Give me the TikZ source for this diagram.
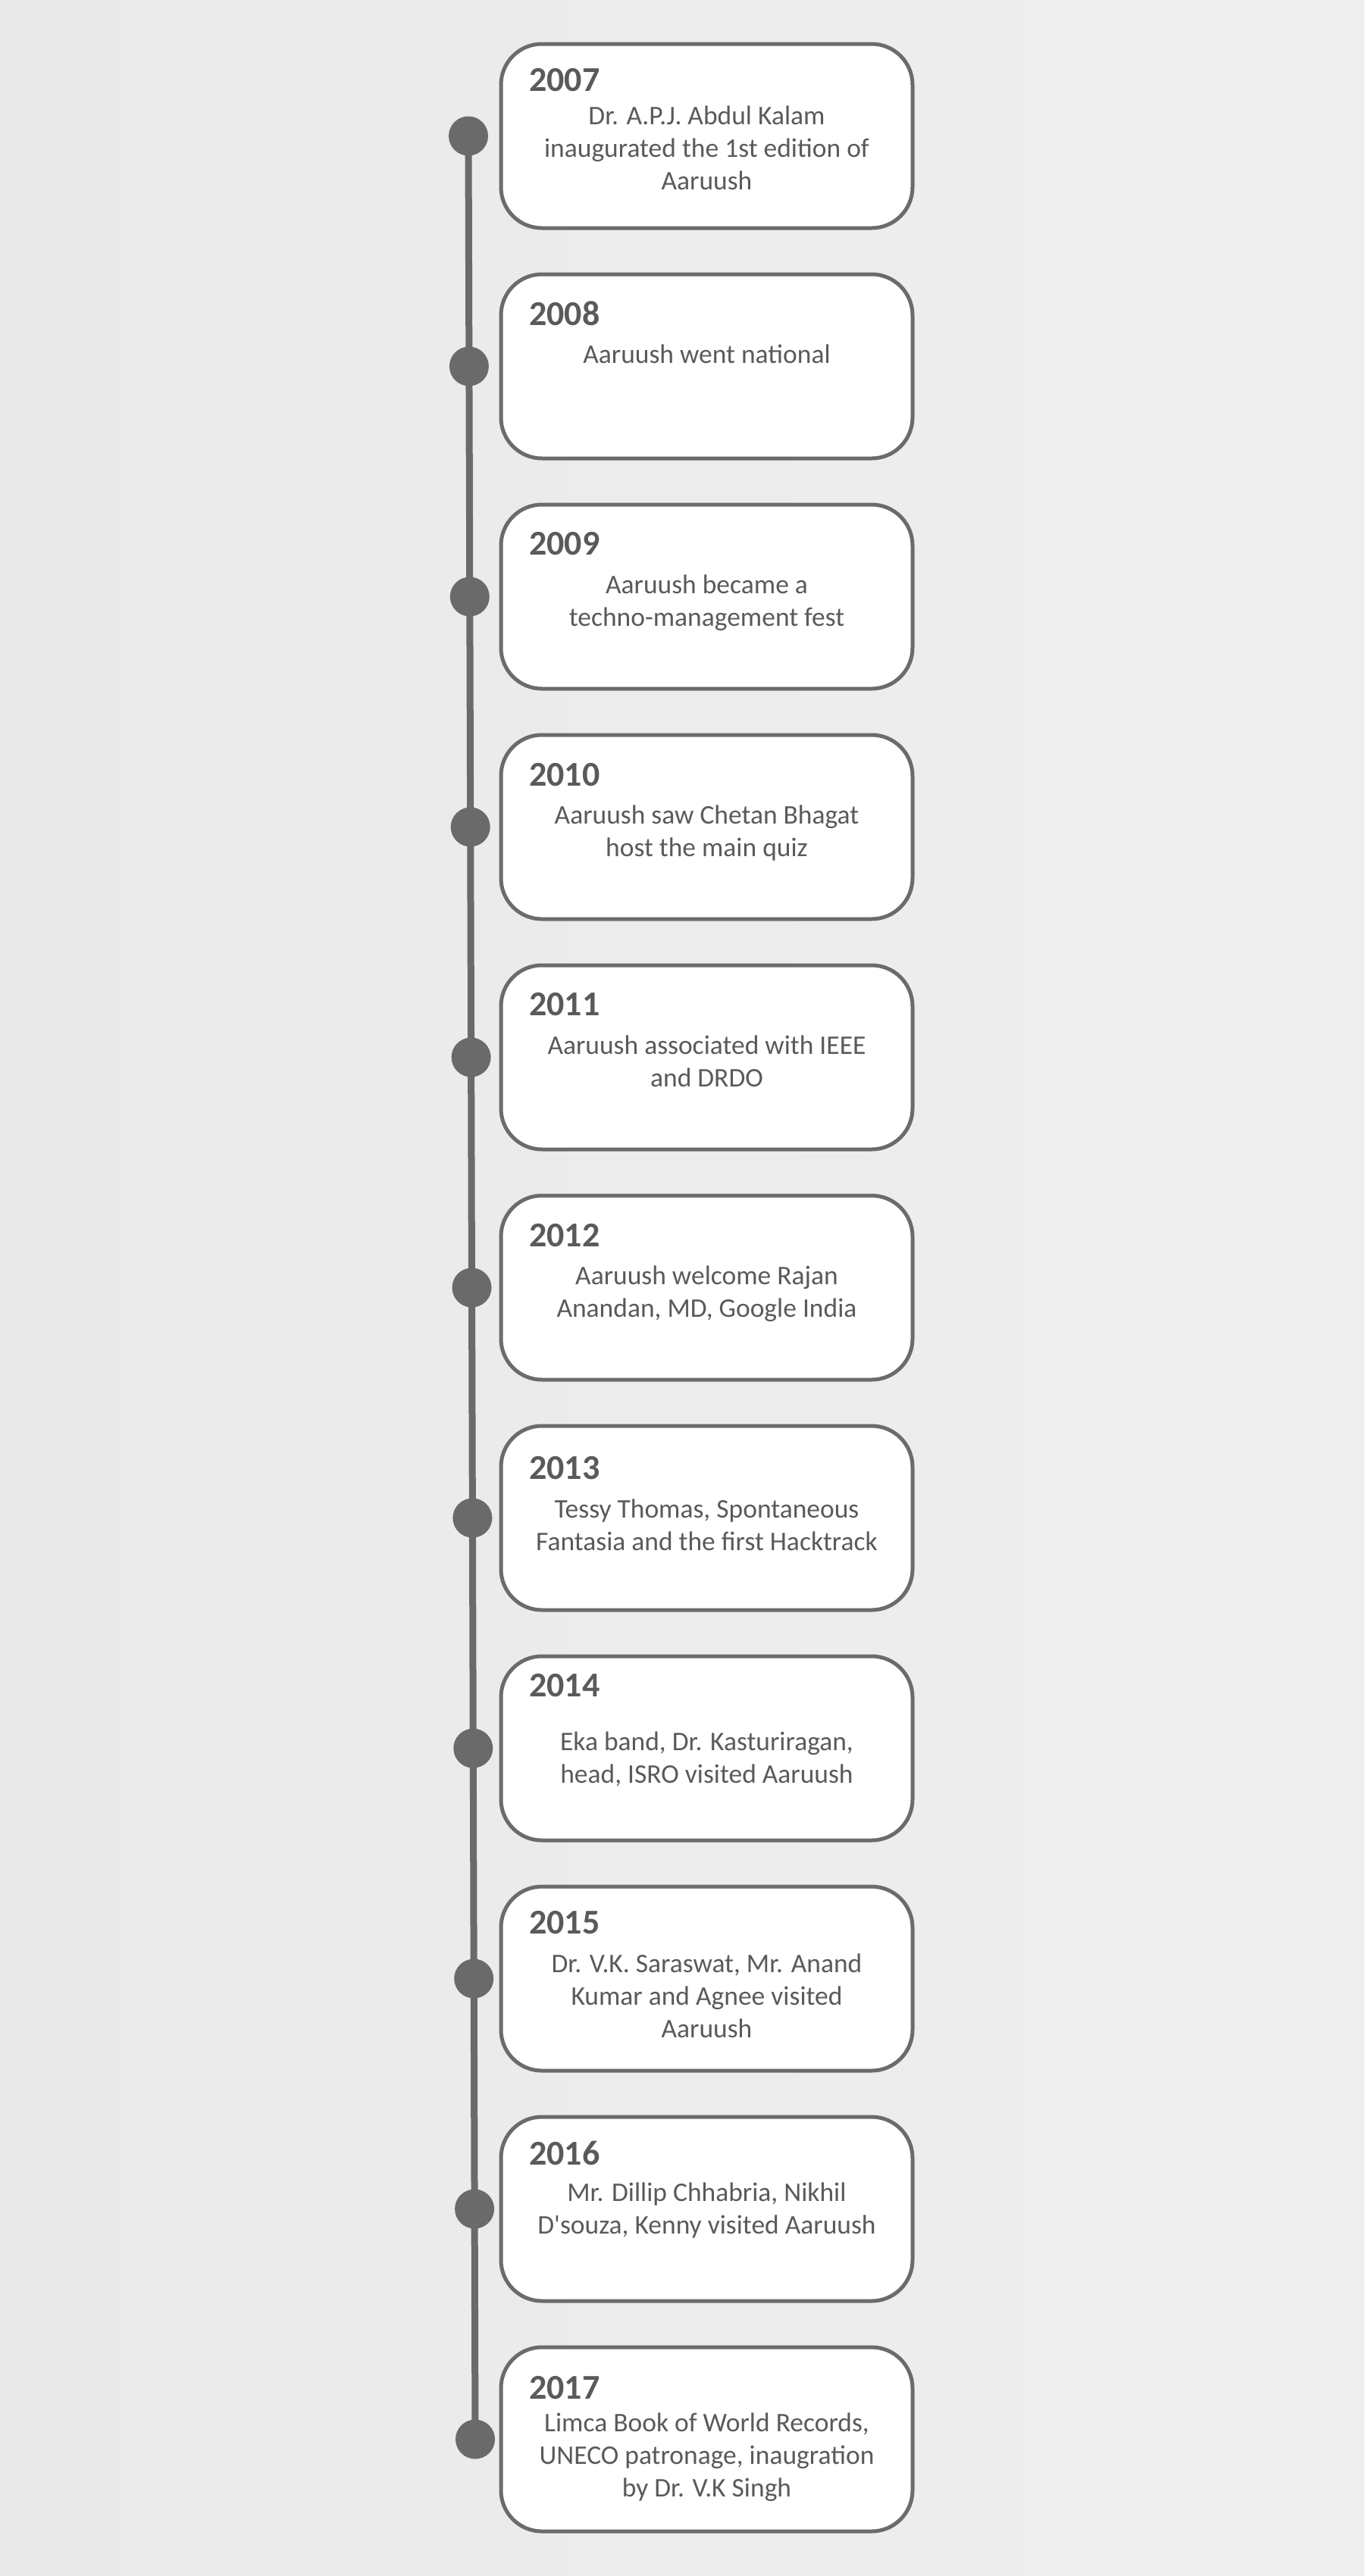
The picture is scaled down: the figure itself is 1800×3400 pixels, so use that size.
\documentclass[tikz,border=0pt]{standalone}
\usepackage{fontspec}
\setmainfont{Carlito}
\newfontfamily\yearfont{Carlito}
\definecolor{bgL}{HTML}{E9E9E9}
\definecolor{bgR}{HTML}{EFEFEF}
\definecolor{linecol}{HTML}{6A6A6A}
\definecolor{bordercol}{HTML}{6B6B6B}
\definecolor{txtcol}{HTML}{5A5A5A}
\definecolor{yearcol}{HTML}{5A5A5A}
\pgfdeclarelayer{bg}
\pgfsetlayers{bg,main}
\tikzset{
  evbox/.style={draw=bordercol, line width=5pt, fill=white, rounded corners=54pt,
    minimum width=543pt, minimum height=243pt, inner sep=0pt},
  dotnode/.style={circle, fill=linecol, draw=none, minimum size=52pt, inner sep=0pt},
  yearlbl/.style={anchor=west, inner sep=0pt, text=yearcol, font=\yearfont\bfseries\fontsize{46}{50}\selectfont},
  desclbl/.style={anchor=north, inner sep=0pt, align=center, text=txtcol, font=\fontsize{35.5}{43}\selectfont},
  tline/.style={draw=linecol, line width=9pt}
}
\begin{document}
\begin{tikzpicture}[x=1pt,y=-1pt]
\useasboundingbox (0,0) rectangle (1800,3400);
% boxes
\node[evbox] (b0) at (932.5,179.5) {};
\node[evbox] (b1) at (932.5,483.5) {};
\node[evbox] (b2) at (932.5,787.5) {};
\node[evbox] (b3) at (932.5,1091.5) {};
\node[evbox] (b4) at (932.5,1395.5) {};
\node[evbox] (b5) at (932.5,1699.5) {};
\node[evbox] (b6) at (932.5,2003.5) {};
\node[evbox] (b7) at (932.5,2307.5) {};
\node[evbox] (b8) at (932.5,2611.5) {};
\node[evbox] (b9) at (932.5,2915.5) {};
\node[evbox] (b10) at (932.5,3219.5) {};
% years
\node[yearlbl] (y0) at (698,106) {2007};
\node[yearlbl] (y1) at (698,414) {2008};
\node[yearlbl] (y2) at (698,718) {2009};
\node[yearlbl] (y3) at (698,1023) {2010};
\node[yearlbl] (y4) at (698,1326) {2011};
\node[yearlbl] (y5) at (698,1631) {2012};
\node[yearlbl] (y6) at (698,1938) {2013};
\node[yearlbl] (y7) at (698,2225) {2014};
\node[yearlbl] (y8) at (698,2538) {2015};
\node[yearlbl] (y9) at (698,2842) {2016};
\node[yearlbl] (y10) at (698,3152) {2017};
% descriptions
\node[desclbl] (t0) at (932.5,140) {Dr. A.P.J. Abdul Kalam\\inaugurated the 1st edition of\\Aaruush};
\node[desclbl] (t1) at (932.5,455) {Aaruush went national};
\node[desclbl] (t2) at (932.5,759) {Aaruush became a\\techno-management fest};
\node[desclbl] (t3) at (932.5,1063) {Aaruush saw Chetan Bhagat\\host the main quiz};
\node[desclbl] (t4) at (932.5,1367) {Aaruush associated with IEEE\\and DRDO};
\node[desclbl] (t5) at (932.5,1671) {Aaruush welcome Rajan\\Anandan, MD, Google India};
\node[desclbl] (t6) at (932.5,1979) {Tessy Thomas, Spontaneous\\Fantasia and the first Hacktrack};
\node[desclbl] (t7) at (932.5,2286) {Eka band, Dr. Kasturiragan,\\head, ISRO visited Aaruush};
\node[desclbl] (t8) at (932.5,2579) {Dr. V.K. Saraswat, Mr. Anand\\Kumar and Agnee visited\\Aaruush};
\node[desclbl] (t9) at (932.5,2881) {Mr. Dillip Chhabria, Nikhil\\D\textquotesingle souza, Kenny visited Aaruush};
\node[desclbl] (t10) at (932.5,3185) {Limca Book of World Records,\\UNECO patronage, inaugration\\by Dr. V.K Singh};
% dots
\node[dotnode] (d0) at (618.0,179.5) {};
\node[dotnode] (d1) at (618.9,483.5) {};
\node[dotnode] (d2) at (619.8,787.5) {};
\node[dotnode] (d3) at (620.7,1091.5) {};
\node[dotnode] (d4) at (621.6,1395.5) {};
\node[dotnode] (d5) at (622.5,1699.5) {};
\node[dotnode] (d6) at (623.4,2003.5) {};
\node[dotnode] (d7) at (624.3,2307.5) {};
\node[dotnode] (d8) at (625.2,2611.5) {};
\node[dotnode] (d9) at (626.1,2915.5) {};
\node[dotnode] (d10) at (627.0,3219.5) {};
\begin{pgfonlayer}{bg}
  \shade[left color=bgL, right color=bgR] (0,0) rectangle (1800,3400);
  \draw[tline] (d0.center) -- (d1.center) -- (d2.center) -- (d3.center) -- (d4.center) -- (d5.center)
     -- (d6.center) -- (d7.center) -- (d8.center) -- (d9.center) -- (d10.center);
\end{pgfonlayer}
\end{tikzpicture}
\end{document}
